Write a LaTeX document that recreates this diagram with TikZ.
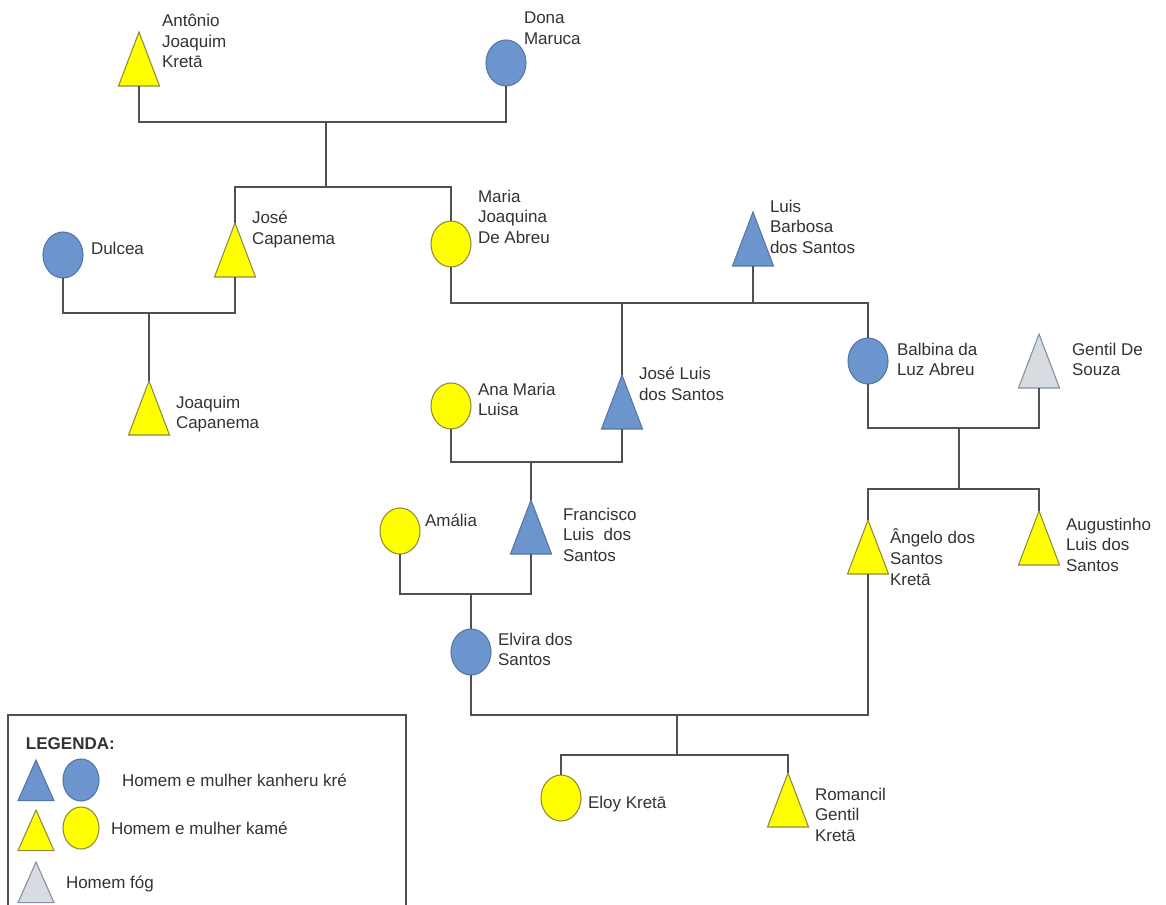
\documentclass[tikz,border=0pt]{standalone}
\usepackage{fontspec}
\setmainfont{Liberation Sans}
\usetikzlibrary{shapes.geometric}
\definecolor{kblue}{RGB}{107,149,204}
\definecolor{kblueline}{RGB}{84,118,168}
\definecolor{kyellow}{RGB}{255,255,0}
\definecolor{kyellowline}{RGB}{140,140,60}
\definecolor{kgrey}{RGB}{216,220,225}
\definecolor{kgreyline}{RGB}{128,144,168}
\definecolor{ink}{RGB}{51,51,51}
\definecolor{wirecol}{RGB}{80,80,80}

\begin{document}
\begin{tikzpicture}[x=0.75pt,y=-0.75pt,
  man/.style={isosceles triangle, isosceles triangle stretches, rotate=90,
    minimum width=30.75pt, minimum height=40.5pt, inner sep=0pt, outer sep=0pt,
    anchor=apex, line width=0.8pt},
  smallman/.style={man, minimum width=27pt, minimum height=30.5pt},
  woman/.style={ellipse, minimum width=30pt, minimum height=34.5pt,
    inner sep=0pt, outer sep=0pt, line width=0.8pt},
  smallwoman/.style={woman, minimum width=27pt, minimum height=31.5pt},
  kre/.style={fill=kblue, draw=kblueline},
  kame/.style={fill=kyellow, draw=kyellowline},
  fog/.style={fill=kgrey, draw=kgreyline},
  lbl/.style={anchor=north west, inner sep=0pt, outer sep=0pt, align=left,
    text=ink, font=\fontsize{12.75}{15.5}\selectfont, execute at begin node=\strut},
  tie/.style={draw=wirecol, line width=1.4pt},
]
\clip (0,0) rectangle (1166,905);
\fill[white] (0,0) rectangle (1166,905);

% ---- people ----
\node[man,kame]   (ant)   at (139,32)  {};
\node[woman,kre]  (dona)  at (506,63)  {};
\node[man,kame]   (jose)  at (235,223) {};
\node[woman,kre]  (dulcea) at (63,255) {};
\node[man,kame]   (joaquim) at (149,381) {};
\node[woman,kame] (maria) at (451,244) {};
\node[man,kre]    (luis)  at (753,212) {};
\node[man,kre]    (joseluis) at (622,375) {};
\node[woman,kre]  (balbina) at (868,361) {};
\node[man,fog]    (gentil) at (1039,334) {};
\node[woman,kame] (ana)   at (451,406) {};
\node[man,kre]    (francisco) at (531,500) {};
\node[woman,kame] (amalia) at (400,531) {};
\node[woman,kre]  (elvira) at (471,652) {};
\node[man,kame]   (angelo) at (868,520) {};
\node[man,kame]   (augustinho) at (1039,511) {};
\node[woman,kame] (eloy)  at (561,798) {};
\node[man,kame]   (romancil) at (788,773) {};

% ---- names ----
\node[lbl] (tant) at (162,14) {Antônio\\Joaquim\\Kretā};
\node[lbl] (tdona) at (524,12) {Dona\\Maruca};
\node[lbl] (tjose) at (252,211) {José\\Capanema};
\node[lbl] (tdulcea) at (91,240) {Dulcea};
\node[lbl] (tjoaquim) at (176,396) {Joaquim\\Capanema};
\node[lbl] (tmaria) at (478,190) {Maria\\Joaquina\\De Abreu};
\node[lbl] (tluis) at (770,200) {Luis\\Barbosa\\dos Santos};
\node[lbl] (tjoseluis) at (639,367) {José Luis\\dos Santos};
\node[lbl] (tbalbina) at (897,343) {Balbina da\\Luz Abreu};
\node[lbl] (tgentil) at (1072,343) {Gentil De\\Souza};
\node[lbl] (tana) at (478,383) {Ana Maria\\Luisa};
\node[lbl] (tfrancisco) at (563,508) {Francisco\\Luis\ \ dos\\Santos};
\node[lbl] (tamalia) at (425,512) {Amália};
\node[lbl] (telvira) at (498,633) {Elvira dos\\Santos};
\node[lbl] (tangelo) at (890,529) {Ângelo dos\\Santos\\Kretā};
\node[lbl] (taugustinho) at (1066,518) {Augustinho\\Luis dos\\Santos};
\node[lbl] (teloy) at (588,794) {Eloy Kretā};
\node[lbl] (tromancil) at (815,788) {Romancil\\Gentil\\Kretā};

% ---- unions and descent ----
\coordinate (m1) at (326,122);
\coordinate (s1) at (326,187);
\draw[tie] (ant.lower side) |- (m1) -| (dona.south);
\draw[tie] (m1) -- (s1);
\draw[tie] (jose.apex) |- (s1) -| (maria.north);

\coordinate (m2) at (149,313);
\draw[tie] (dulcea.south) |- (m2) -| (jose.lower side);
\draw[tie] (m2) -- (joaquim.apex);

\coordinate (m3) at (622,303);
\draw[tie] (maria.south) |- (m3) -| (balbina.north);
\draw[tie] (luis.lower side) -- (luis.lower side |- m3);
\draw[tie] (m3) -- (joseluis.apex);

\coordinate (m4) at (959,428);
\coordinate (s4) at (959,489);
\draw[tie] (balbina.south) |- (m4) -| (gentil.lower side);
\draw[tie] (m4) -- (s4);
\draw[tie] (angelo.apex) |- (s4) -| (augustinho.apex);

\coordinate (m5) at (531,462);
\draw[tie] (ana.south) |- (m5) -| (joseluis.lower side);
\draw[tie] (m5) -- (francisco.apex);

\coordinate (m6) at (471,594);
\draw[tie] (amalia.south) |- (m6) -| (francisco.lower side);
\draw[tie] (m6) -- (elvira.north);

\coordinate (m7) at (677,715);
\coordinate (s7) at (677,755);
\draw[tie] (elvira.south) |- (m7) -| (angelo.lower side);
\draw[tie] (m7) -- (s7);
\draw[tie] (eloy.north) |- (s7) -| (romancil.apex);

% ---- legend ----
\draw[draw=wirecol, line width=0.9pt] (8,715) rectangle (406,920);
\node[lbl, font=\fontsize{12.75}{15.5}\selectfont\bfseries] (tlegend) at (26,735) {LEGENDA:};
\node[smallman,kre]    (lkman)  at (36,760) {};
\node[smallwoman,kre]  (lkwoman) at (81,780) {};
\node[lbl] (tlk) at (122,772) {Homem e mulher kanheru kré};
\node[smallman,kame]   (lyman)  at (36,810) {};
\node[smallwoman,kame] (lywoman) at (81,828) {};
\node[lbl] (tly) at (111,820) {Homem e mulher kamé};
\node[smallman,fog]    (lgman)  at (36,862) {};
\node[lbl] (tlg) at (66,874) {Homem fóg};
\end{tikzpicture}
\end{document}
